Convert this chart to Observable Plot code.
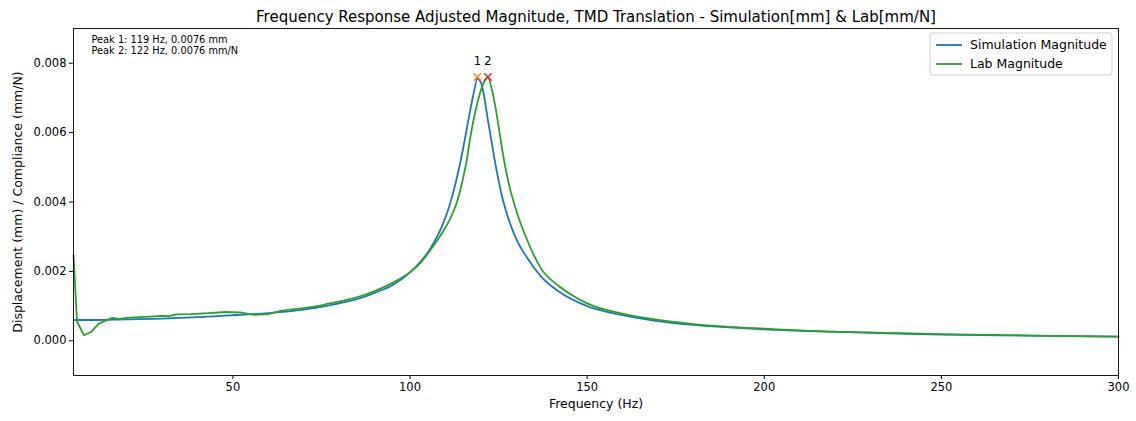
<!DOCTYPE html>
<html>
<head>
<meta charset="utf-8">
<script src="https://cdn.jsdelivr.net/npm/d3@7"></script>
<script src="https://cdn.jsdelivr.net/npm/@observablehq/plot@0.6"></script>
<style>
  html, body { margin: 0; padding: 0; background: #fff; }
  svg { font-family: "DejaVu Sans", sans-serif; }
</style>
</head>
<body>
<div id="chart"></div>
<script>
const titleText = "Frequency Response Adjusted Magnitude, TMD Translation - Simulation[mm] & Lab[mm/N]";
const xLabel = "Frequency (Hz)";
const yLabel = "Displacement (mm) / Compliance (mm/N)";
const seriesNames = ["Simulation Magnitude", "Lab Magnitude"];
const seriesColors = ["#1f77b4", "#2ca02c"];
const xTicks = [50, 100, 150, 200, 250, 300];
const yTicks = [0.000, 0.002, 0.004, 0.006, 0.008];

const simFreq = [5, 10, 20, 30, 40, 50, 60, 70, 80, 85, 90, 95, 100, 103, 106, 109, 111, 113, 115, 116, 117, 118, 119, 120, 121, 122, 123, 124, 125, 126, 128, 130, 133, 137, 142, 150, 160, 170, 180, 190, 200, 215, 230, 250, 275, 300];
const simMag = [0.00060, 0.00060, 0.00062, 0.00064, 0.00068, 0.00074, 0.00080, 0.00090, 0.00108, 0.00120, 0.00138, 0.00160, 0.00197, 0.00228, 0.00270, 0.00330, 0.00385, 0.00460, 0.00555, 0.00610, 0.00665, 0.00715, 0.00755, 0.00745, 0.00700, 0.00635, 0.00575, 0.00515, 0.00462, 0.00415, 0.00345, 0.00293, 0.00240, 0.00185, 0.00142, 0.00100, 0.00074, 0.00057, 0.00046, 0.00039, 0.00033, 0.00027, 0.00023, 0.00018, 0.00015, 0.00012];

const labFreq = [5, 6, 8, 10, 12, 14, 16, 18, 20, 25, 30, 32, 34, 38, 43, 48, 52, 56, 60, 64, 68, 72, 77, 82, 87, 92, 96, 100, 103, 106, 109, 111, 113, 115, 116, 117, 118, 119, 120, 121, 122, 123, 124, 125, 126, 127, 128, 130, 133, 137, 142, 146, 150, 160, 170, 180, 190, 200, 215, 230, 250, 275, 300];
const labMag = [0.00247, 0.00055, 0.00016, 0.00026, 0.00048, 0.00058, 0.00066, 0.00063, 0.00066, 0.00069, 0.00072, 0.00071, 0.00076, 0.00077, 0.00080, 0.00083, 0.00082, 0.00075, 0.00077, 0.00087, 0.00092, 0.00097, 0.00107, 0.00118, 0.00132, 0.00152, 0.00172, 0.00198, 0.00225, 0.00265, 0.00310, 0.00345, 0.00392, 0.00470, 0.00520, 0.00585, 0.00640, 0.00685, 0.00722, 0.00748, 0.00760, 0.00728, 0.00680, 0.00618, 0.00552, 0.00495, 0.00448, 0.00375, 0.00292, 0.00208, 0.00158, 0.00130, 0.00108, 0.00078, 0.00060, 0.00048, 0.00040, 0.00035, 0.00028, 0.00024, 0.00019, 0.00015, 0.00012];

const peakFreq = [119, 122];
const peakMag = [0.0076, 0.0076];
const peakLabels = ["1", "2"];
const peakColors = ["#ff7f0e", "#d62728"];
const peakNotes = ["Peak 1: 119 Hz, 0.0076 mm", "Peak 2: 122 Hz, 0.0076 mm/N"];

const sim = simFreq.map((f, i) => ({f, m: simMag[i]}));
const lab = labFreq.map((f, i) => ({f, m: labMag[i]}));
const labLow = lab.filter(d => d.f <= 60);
const labHigh = lab.filter(d => d.f >= 60);
const peaks = peakFreq.map((f, i) => ({f, m: peakMag[i], label: peakLabels[i], color: peakColors[i]}));

const W = 1136, H = 421;
const chart = Plot.plot({
  width: W,
  height: H,
  marginLeft: 73,
  marginRight: 18,
  marginTop: 28,
  marginBottom: 46,
  style: {fontFamily: "DejaVu Sans, sans-serif", fontSize: "11.5px", color: "#000", background: "#fff"},
  x: {domain: [5, 300]},
  y: {domain: [-0.001, 0.009]},
  marks: [
    Plot.axisX({ticks: xTicks, tickSize: 4, tickPadding: 3, label: null, tickFormat: d => String(d), fontSize: 11.5}),
    Plot.axisY({ticks: yTicks, tickSize: 4, tickPadding: 3, label: null, tickFormat: d3.format(".3f"), fontSize: 11.5}),
    Plot.line(sim, {x: "f", y: "m", stroke: seriesColors[0], strokeWidth: 1.8, curve: "monotone-x"}),
    Plot.line(labLow, {x: "f", y: "m", stroke: seriesColors[1], strokeWidth: 1.8, strokeLinejoin: "round"}),
    Plot.line(labHigh, {x: "f", y: "m", stroke: seriesColors[1], strokeWidth: 1.8, curve: "monotone-x"}),
    Plot.dot(peaks, {x: "f", y: "m", symbol: "times", r: 3.5, stroke: "color", strokeWidth: 1.4}),
    Plot.text(peaks, {x: "f", y: "m", text: "label", dy: -16, fontSize: 11.5, fill: "#000"}),
    Plot.frame({stroke: "#000", strokeWidth: 0.9}),
    Plot.text([titleText], {frameAnchor: "top", dy: -17, fontSize: 15, fill: "#000"}),
    Plot.text([xLabel], {frameAnchor: "bottom", dy: 32, fontSize: 12.5, fill: "#000"}),
    Plot.text([yLabel], {frameAnchor: "left", dx: -56, rotate: -90, textAnchor: "middle", fontSize: 12.5, fill: "#000"}),
    Plot.text([peakNotes.join("\n")], {frameAnchor: "top-left", dx: 18, dy: 7, fontSize: 9.8, fill: "#000", lineHeight: 1.1, textAnchor: "start"})
  ]
});

// Legend (upper right, matplotlib style)
const svg = d3.select(chart);
const lg = svg.append("g").attr("transform", "translate(930,33)");
lg.append("rect").attr("width", 182).attr("height", 42).attr("rx", 3)
  .attr("fill", "#fff").attr("fill-opacity", 0.8).attr("stroke", "#d0d0d0");
seriesNames.forEach((name, i) => {
  const y = 12 + i * 19;
  lg.append("line").attr("x1", 6).attr("x2", 32).attr("y1", y).attr("y2", y)
    .attr("stroke", seriesColors[i]).attr("stroke-width", 1.8);
  lg.append("text").attr("x", 40).attr("y", y).attr("dy", "0.35em")
    .attr("text-anchor", "start")
    .attr("font-size", 12.5).attr("fill", "#000").text(name);
});

document.getElementById("chart").appendChild(chart);
</script>
</body>
</html>
